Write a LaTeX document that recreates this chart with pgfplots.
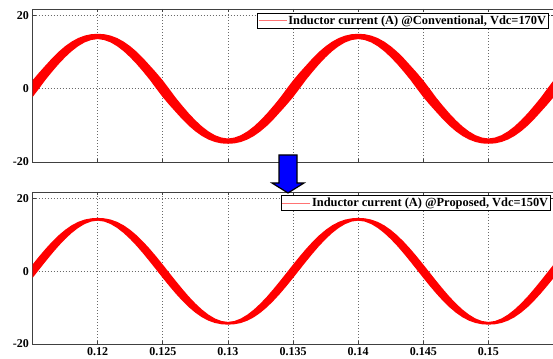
\documentclass[border=0pt]{standalone}
\usepackage{fontspec}
\setmainfont{Liberation Serif}
\usepackage{pgfplots}
\pgfplotsset{compat=1.18}
\usepackage{pgfplotstable}
\usepgfplotslibrary{fillbetween}

% ripple envelope (lower / upper bound) of the inductor current, A
\pgfplotstableread{
t lo hi
0.1150 -2.30 2.30
0.1155 0.05 4.40
0.1160 2.46 6.38
0.1165 4.64 8.34
0.1170 6.71 10.11
0.1175 8.59 11.63
0.1180 10.25 12.89
0.1185 11.62 13.86
0.1190 12.67 14.53
0.1195 13.32 14.92
0.1200 13.58 15.02
0.1205 13.32 14.92
0.1210 12.67 14.53
0.1215 11.62 13.86
0.1220 10.25 12.89
0.1225 8.59 11.63
0.1230 6.71 10.11
0.1235 4.64 8.34
0.1240 2.46 6.38
0.1245 0.05 4.40
0.1250 -2.30 2.30
0.1255 -4.40 -0.05
0.1260 -6.38 -2.46
0.1265 -8.34 -4.64
0.1270 -10.11 -6.71
0.1275 -11.63 -8.59
0.1280 -12.89 -10.25
0.1285 -13.86 -11.62
0.1290 -14.53 -12.67
0.1295 -14.92 -13.32
0.1300 -15.02 -13.58
0.1305 -14.92 -13.32
0.1310 -14.53 -12.67
0.1315 -13.86 -11.62
0.1320 -12.89 -10.25
0.1325 -11.63 -8.59
0.1330 -10.11 -6.71
0.1335 -8.34 -4.64
0.1340 -6.38 -2.46
0.1345 -4.40 -0.05
0.1350 -2.30 2.30
0.1355 0.05 4.40
0.1360 2.46 6.38
0.1365 4.64 8.34
0.1370 6.71 10.11
0.1375 8.59 11.63
0.1380 10.25 12.89
0.1385 11.62 13.86
0.1390 12.67 14.53
0.1395 13.32 14.92
0.1400 13.58 15.02
0.1405 13.32 14.92
0.1410 12.67 14.53
0.1415 11.62 13.86
0.1420 10.25 12.89
0.1425 8.59 11.63
0.1430 6.71 10.11
0.1435 4.64 8.34
0.1440 2.46 6.38
0.1445 0.05 4.40
0.1450 -2.30 2.30
0.1455 -4.40 -0.05
0.1460 -6.38 -2.46
0.1465 -8.34 -4.64
0.1470 -10.11 -6.71
0.1475 -11.63 -8.59
0.1480 -12.89 -10.25
0.1485 -13.86 -11.62
0.1490 -14.53 -12.67
0.1495 -14.92 -13.32
0.1500 -15.02 -13.58
0.1505 -14.92 -13.32
0.1510 -14.53 -12.67
0.1515 -13.86 -11.62
0.1520 -12.89 -10.25
0.1525 -11.63 -8.59
0.1530 -10.11 -6.71
0.1535 -8.34 -4.64
0.1540 -6.38 -2.46
0.1545 -4.40 -0.05
0.1550 -2.30 2.30
}\conventional

\pgfplotstableread{
t lo hi
0.1150 -1.85 1.85
0.1155 0.42 4.06
0.1160 2.67 6.17
0.1165 4.86 8.12
0.1170 6.94 9.88
0.1175 8.83 11.39
0.1180 10.50 12.64
0.1185 11.90 13.58
0.1190 12.98 14.22
0.1195 13.67 14.57
0.1200 13.92 14.68
0.1205 13.67 14.57
0.1210 12.98 14.22
0.1215 11.90 13.58
0.1220 10.50 12.64
0.1225 8.83 11.39
0.1230 6.94 9.88
0.1235 4.86 8.12
0.1240 2.67 6.17
0.1245 0.42 4.06
0.1250 -1.85 1.85
0.1255 -4.06 -0.42
0.1260 -6.17 -2.67
0.1265 -8.12 -4.86
0.1270 -9.88 -6.94
0.1275 -11.39 -8.83
0.1280 -12.64 -10.50
0.1285 -13.58 -11.90
0.1290 -14.22 -12.98
0.1295 -14.57 -13.67
0.1300 -14.68 -13.92
0.1305 -14.57 -13.67
0.1310 -14.22 -12.98
0.1315 -13.58 -11.90
0.1320 -12.64 -10.50
0.1325 -11.39 -8.83
0.1330 -9.88 -6.94
0.1335 -8.12 -4.86
0.1340 -6.17 -2.67
0.1345 -4.06 -0.42
0.1350 -1.85 1.85
0.1355 0.42 4.06
0.1360 2.67 6.17
0.1365 4.86 8.12
0.1370 6.94 9.88
0.1375 8.83 11.39
0.1380 10.50 12.64
0.1385 11.90 13.58
0.1390 12.98 14.22
0.1395 13.67 14.57
0.1400 13.92 14.68
0.1405 13.67 14.57
0.1410 12.98 14.22
0.1415 11.90 13.58
0.1420 10.50 12.64
0.1425 8.83 11.39
0.1430 6.94 9.88
0.1435 4.86 8.12
0.1440 2.67 6.17
0.1445 0.42 4.06
0.1450 -1.85 1.85
0.1455 -4.06 -0.42
0.1460 -6.17 -2.67
0.1465 -8.12 -4.86
0.1470 -9.88 -6.94
0.1475 -11.39 -8.83
0.1480 -12.64 -10.50
0.1485 -13.58 -11.90
0.1490 -14.22 -12.98
0.1495 -14.57 -13.67
0.1500 -14.68 -13.92
0.1505 -14.57 -13.67
0.1510 -14.22 -12.98
0.1515 -13.58 -11.90
0.1520 -12.64 -10.50
0.1525 -11.39 -8.83
0.1530 -9.88 -6.94
0.1535 -8.12 -4.86
0.1540 -6.17 -2.67
0.1545 -4.06 -0.42
0.1550 -1.85 1.85
}\proposed

\definecolor{axgray}{RGB}{64,64,64}
\definecolor{gridgray}{RGB}{105,105,105}

\pgfplotsset{
  panel/.style={
    scale only axis, width=521.1pt,
    xmin=0.115, xmax=0.155, ymin=-20, ymax=21.8,
    xtick={0.12,0.125,0.13,0.135,0.14,0.145,0.15},
    ytick={-20,0,20}, yticklabels={-20,0,20},
    grid=major,
    major grid style={gridgray, dash pattern=on 1pt off 2pt, line width=0.6pt},
    axis line style={axgray, line width=0.9pt},
    tick align=inside, major tick length=3pt,
    tick style={axgray, line width=0.6pt},
    tick label style={font=\fontsize{12}{12}\selectfont\bfseries},
    /pgf/number format/assume math mode=true,
    legend style={draw=black, line width=0.6pt, fill=white,
      font=\fontsize{12.4}{13}\selectfont\bfseries,
      inner sep=1pt, nodes={inner sep=1.5pt}, anchor=north east},
    legend image code/.code={\draw[#1] (0pt,0pt) -- (28pt,0pt);},
  }
}

\begin{document}
\begin{tikzpicture}[x=1pt,y=1pt]
% upper panel: conventional converter
\begin{axis}[panel, at={(32.5pt,196pt)}, anchor=south west, height=153pt,
  xticklabels={}, legend style={at={(0.991,0.976)}}]
  \addplot[draw=none, name path=cu, forget plot] table[x=t,y=hi]{\conventional};
  \addplot[draw=none, name path=cl, forget plot] table[x=t,y=lo]{\conventional};
  \addplot[red, forget plot] fill between[of=cu and cl];
  \addlegendimage{red!55, line width=0.7pt}
  \addlegendentry{Inductor current (A) @Conventional, Vdc=170V}
\end{axis}
% lower panel: proposed converter
\begin{axis}[panel, at={(32.5pt,14pt)}, anchor=south west, height=152pt,
  xticklabels={0.12,0.125,0.13,0.135,0.14,0.145,0.15},
  legend style={at={(0.995,0.980)}}]
  \addplot[draw=none, name path=pu, forget plot] table[x=t,y=hi]{\proposed};
  \addplot[draw=none, name path=pl, forget plot] table[x=t,y=lo]{\proposed};
  \addplot[red, forget plot] fill between[of=pu and pl];
  \addlegendimage{red!55, line width=0.7pt}
  \addlegendentry{Inductor current (A) @Proposed, Vdc=150V}
\end{axis}
% transition arrow between the panels
\draw[line width=1.2pt, black, fill=blue, line join=miter]
  (279,203) -- (297,203) -- (297,175) -- (304,175) -- (288,165)
  -- (272,175) -- (279,175) -- cycle;
\pgfresetboundingbox
\useasboundingbox (0,0) rectangle (553,358);
\end{tikzpicture}
\end{document}
